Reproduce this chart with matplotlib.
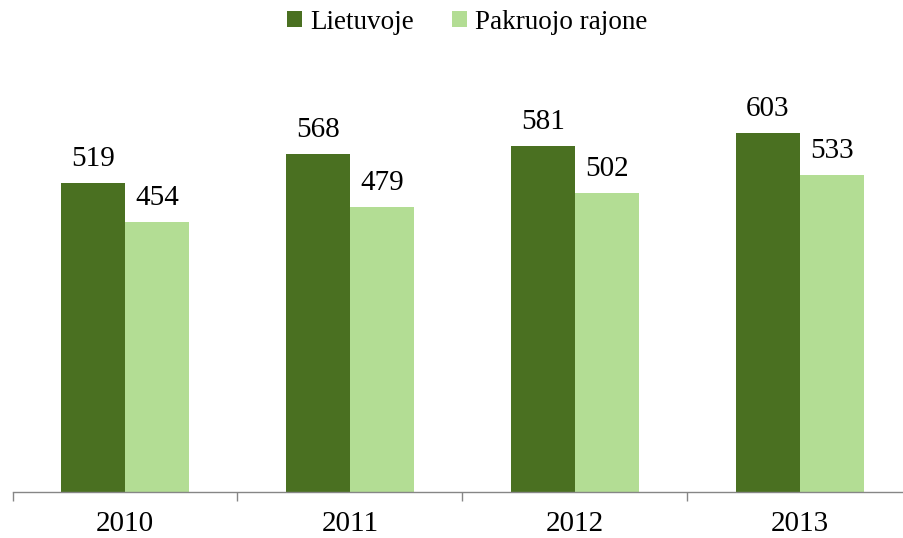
import numpy as np
import matplotlib.pyplot as plt
from matplotlib.ticker import FixedLocator

# Data
years = ['2010', '2011', '2012', '2013']
lietuvoje = [519, 568, 581, 603]
pakruojo = [454, 479, 502, 533]
series_names = ['Lietuvoje', 'Pakruojo rajone']

plt.rcParams['font.family'] = ['Liberation Serif', 'DejaVu Serif']

dark = '#4a7021'
light = '#b3dd94'

fig = plt.figure(figsize=(9.04, 5.38), dpi=100)
ax = fig.add_axes([12.5 / 904, 1 - 492 / 538, 900 / 904, 416.4 / 538])

x = np.arange(len(years))
w = 64 / 225
b1 = ax.bar(x - w / 2, lietuvoje, w, color=dark, label=series_names[0])
b2 = ax.bar(x + w / 2, pakruojo, w, color=light, label=series_names[1])

# value labels above the bars
for bars, vals in [(b1, lietuvoje), (b2, pakruojo)]:
    for rect, v in zip(bars, vals):
        ax.annotate(str(v), xy=(rect.get_x() + rect.get_width() / 2, v),
                    xytext=(0, 12.5), textcoords='offset points',
                    ha='center', va='baseline', fontsize=21, color='black')

ax.set_xlim(-0.5, len(years) - 0.5)
ax.set_ylim(0, 700)

ax.set_xticks(x)
ax.set_xticklabels(years, fontsize=21)
ax.tick_params(axis='x', which='major', length=0, pad=14)
ax.xaxis.set_minor_locator(FixedLocator(np.arange(len(years) + 1) - 0.5))
ax.tick_params(axis='x', which='minor', length=6.5, width=1.0, color='#868686')

ax.set_yticks([])
for s in ['top', 'right', 'left']:
    ax.spines[s].set_visible(False)
ax.spines['bottom'].set_color('#868686')
ax.spines['bottom'].set_linewidth(1.0)

fig.legend(loc='center', bbox_to_anchor=(467 / 904, 1 - 22 / 538), ncol=2,
           frameon=False, fontsize=19.5, handlelength=0.55, handleheight=0.55,
           handletextpad=0.3, columnspacing=1.4)

fig.savefig('out.png', dpi=100)
